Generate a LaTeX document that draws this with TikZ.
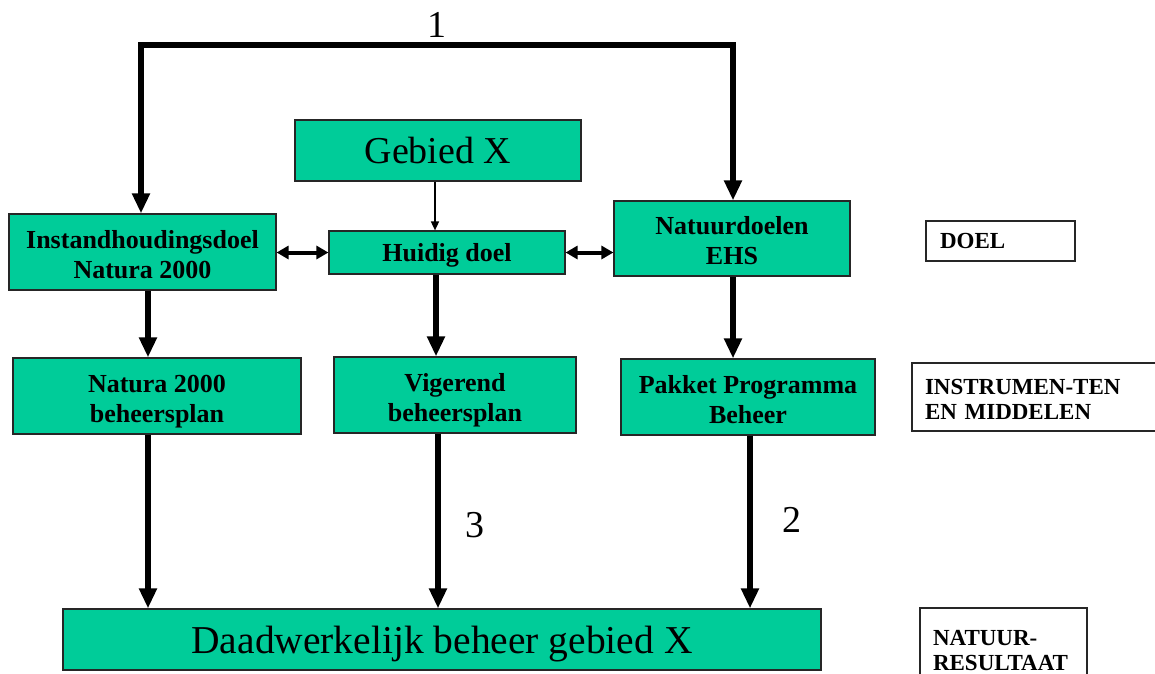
\documentclass[tikz,border=0pt]{standalone}
\usepackage{fontspec}
\setmainfont{Liberation Serif}
\usetikzlibrary{arrows.meta}
\definecolor{boxgreen}{RGB}{0,204,153}
\begin{document}
\begin{tikzpicture}[x=1pt,y=-1pt,
  gbox/.style={draw=black!85, line width=1.2pt, fill=boxgreen, inner sep=0pt, align=center,
    font=\bfseries\fontsize{26}{30}\selectfont},
  lbox/.style={draw=black!85, line width=1.2pt, fill=white, inner sep=0pt, align=left,
    font=\bfseries\fontsize{23}{25}\selectfont},
  oneline/.style={text depth=0pt},
  twoline/.style={text height=52pt, text depth=0pt},
  twolab/.style={text height=16pt, text depth=22pt},
  numlab/.style={font=\fontsize{38}{44}\selectfont, inner sep=0pt},
  bigarrow/.style={line width=6pt, -{Triangle[length=20pt,width=17pt]}},
  dblarrow/.style={line width=4pt, {Triangle[length=12pt,width=13pt]}-{Triangle[length=12pt,width=13pt]}},
  thinarrow/.style={line width=1.6pt, -{Triangle[length=9pt,width=8pt]}}
]
\useasboundingbox (0,0) rectangle (1155,673);

% main boxes
\node[gbox, oneline, font=\fontsize{38}{44}\selectfont, minimum width=286pt, minimum height=61pt] (geb) at (438,150.5) {Gebied X};
\node[gbox, twoline, minimum width=267pt, minimum height=76pt] (inst) at (142.5,252) {Instandhoudingsdoel\\Natura 2000};
\node[gbox, oneline, minimum width=236pt, minimum height=43pt] (huid) at (447,252.5) {Huidig doel};
\node[gbox, twoline, minimum width=236pt, minimum height=75pt] (nat) at (732,238.5) {Natuurdoelen\\EHS};
\node[gbox, twoline, minimum width=288pt, minimum height=76pt] (n2k) at (157,396) {Natura 2000\\beheersplan};
\node[gbox, twoline, minimum width=242pt, minimum height=76pt] (vig) at (455,395) {Vigerend\\beheersplan};
\node[gbox, twoline, minimum width=254pt, minimum height=76pt] (pak) at (748,397) {Pakket Programma\\Beheer};
\node[gbox, oneline, font=\fontsize{39.5}{44}\selectfont, minimum width=758pt, minimum height=61pt] (daad) at (442,639.5) {Daadwerkelijk beheer gebied X};

% right-side labels
\node[lbox, oneline, minimum width=149pt, minimum height=40pt, text width=121pt] (doel) at (1000.5,241) {DOEL};
\node[lbox, twolab, minimum width=253pt, minimum height=68pt, text width=227pt] (instr) at (1038.5,397) {INSTRUMEN-TEN\\EN MIDDELEN};
\node[lbox, twolab, minimum width=167pt, minimum height=80pt, text width=141pt] (res) at (1003.5,648) {NATUUR-\\RESULTAAT};

% loop 1
\coordinate (top) at (437,45);
\draw[line width=6pt, line join=miter, {Triangle[length=20pt,width=17pt]}-{Triangle[length=20pt,width=17pt]}]
  ([xshift=-1.5pt]inst.north) |- (top) -| ([xshift=1pt]nat.north);
\node[numlab] (l1) at (437,25) {1};

% arrows
\draw[thinarrow] ([xshift=-3pt]geb.south) -- ([xshift=-3pt]geb.south |- huid.north);
\draw[dblarrow] (inst.east |- huid.west) -- (huid.west);
\draw[dblarrow] (huid.east) -- (huid.east -| nat.west);
\draw[bigarrow] ([xshift=5.5pt]inst.south) -- ([xshift=5.5pt]inst.south |- n2k.north);
\draw[bigarrow] ([xshift=-11pt]huid.south) -- ([xshift=-11pt]huid.south |- vig.north);
\draw[bigarrow] ([xshift=1pt]nat.south) -- ([xshift=1pt]nat.south |- pak.north);
\draw[bigarrow] ([xshift=-9pt]n2k.south) -- ([xshift=-9pt]n2k.south |- daad.north);
\draw[bigarrow] ([xshift=-17pt]vig.south) -- ([xshift=-17pt]vig.south |- daad.north);
\draw[bigarrow] ([xshift=2pt]pak.south) -- ([xshift=2pt]pak.south |- daad.north);

\node[numlab] (l3) at (475,525) {3};
\node[numlab] (l2) at (792,520) {2};
\end{tikzpicture}
\end{document}
